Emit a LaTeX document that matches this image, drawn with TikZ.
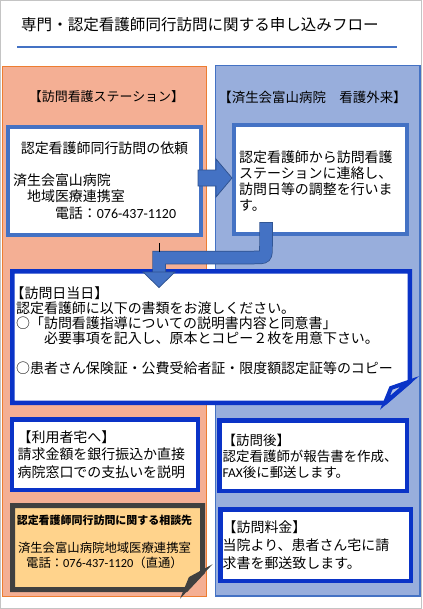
\documentclass[tikz,border=0pt]{standalone}
\usepackage{fontspec}
\setmainfont{Noto Sans CJK JP}
\newfontfamily\numfont{Carlito}
\newcommand{\fsz}[2]{\fontsize{#1}{#2}\selectfont}
\definecolor{lpfill}{HTML}{F4AF94}
\definecolor{lpdraw}{HTML}{ED7D31}
\definecolor{rpfill}{HTML}{98AEDC}
\definecolor{accent}{HTML}{4472C4}
\definecolor{dkblue}{HTML}{0A33C7}
\definecolor{arrowline}{HTML}{2F528F}
\definecolor{notefill}{HTML}{FFD38C}
\definecolor{notedraw}{HTML}{404040}
\definecolor{foldblue}{HTML}{B7C6E8}
\definecolor{foldtan}{HTML}{9A8B73}
\definecolor{framegray}{HTML}{C4C4C4}
\tikzset{
  panelL/.style={draw=lpdraw, fill=lpfill, line width=1bp, rectangle, inner sep=0},
  panelR/.style={draw=accent, fill=rpfill, line width=1.2bp, rectangle, inner sep=0},
  lbox/.style={draw=accent, fill=white, line width=4bp, rectangle, inner sep=0},
  dbox/.style={draw=dkblue, fill=white, line width=4.5bp, rectangle, inner sep=0},
  dkpath/.style={draw=dkblue, fill=white, line width=4.5bp, line join=miter},
  notepath/.style={draw=notedraw, fill=notefill, line width=5bp, line join=miter},
  txt/.style={inner sep=0, text=black},
  mtxt/.style={inner sep=0, text=black, anchor=west, align=left},
}
\begin{document}
\begin{tikzpicture}[x=1bp,y=-1bp]
\useasboundingbox (0,0) rectangle (422,609);
\fill[white] (0,0) rectangle (422,609);
\draw[framegray, line width=1bp] (0.5,0.5) rectangle (421.5,608.5);

% title
\node[txt, anchor=west, font=\fsz{15.6}{18}] (title) at (21,25) {専門・認定看護師同行訪問に関する申し込みフロー};
\coordinate (ulA) at (17,47);
\coordinate (ulB) at (397,47);
\draw[accent, line width=2bp] (ulA) -- (ulB);

% panels
\node[panelL, minimum width=204bp, minimum height=529.5bp] (lp) at (104.5,331.75) {};
\node[panelR, minimum width=204.5bp, minimum height=530.5bp] (rp) at (317.75,330.75) {};

\node[txt, font=\fsz{13}{16}] (lh) at (106.5,97) {【訪問看護ステーション】};
\node[txt, font=\fsz{13.5}{16}] (rh) at (312.5,97) {【済生会富山病院　看護外来】};

% box 1
\node[lbox, minimum width=193bp, minimum height=108bp] (b1) at (104.5,181) {};
\node[txt, font=\fsz{14}{16.5}] (t1a) at (104.5,148) {認定看護師同行訪問の依頼};
\node[mtxt, font=\fsz{14}{16.5}] (t1b) at (13,196.5) {済生会富山病院\\　地域医療連携室\\　　　電話：{\numfont 076-437-1120}};

% box 2
\node[lbox, minimum width=173bp, minimum height=109bp] (b2) at (320.5,179.5) {};
\node[mtxt, font=\fsz{14}{16}] (t2) at (239,181) {認定看護師から訪問看護\\ステーションに連絡し、\\訪問日等の調整を行いま\\す。};

% arrow b1 -> b2
\filldraw[fill=accent, draw=arrowline, line width=0.75bp]
  (198,170) -- (216,170) -- (216,159) -- (232,178) -- (216,197) -- (216,186) -- (198,186) -- cycle;

% box 3 (folded corner)
\path[dkpath] (12.25,271.25) -- (409.75,271.25) -- (409.75,381.5) -- (385,402.75) -- (12.25,402.75) -- cycle;
\filldraw[draw=dkblue, fill=foldblue, line width=4bp, line join=miter] (409.75,381.5) -- (391,388) -- (385,402.75) -- cycle;
\node[mtxt, font=\fsz{14}{15}] (t3) at (16,330.5) {\hspace*{-0.4em}【訪問日当日】\\認定看護師に以下の書類をお渡しください。\\○「訪問看護指導についての説明書内容と同意書」\\　　必要事項を記入し、原本とコピー２枚を用意下さい。\\ \\○患者さん保険証・公費受給者証・限度額認定証等のコピー};

% bent arrow b2 -> b3
\draw[arrowline, line width=13.5bp] (266,222) -- (266,245.5) .. controls (266,257.5) .. (254,257.5) -- (159,257.5) -- (159,273);
\draw[accent, line width=12bp] (266,222.75) -- (266,245.5) .. controls (266,257.5) .. (254,257.5) -- (159,257.5) -- (159,273);
\filldraw[fill=accent, draw=arrowline, line width=0.75bp] (143,272) -- (175,272) -- (159,287.5) -- cycle;
\draw[black, line width=0.8bp] (159,243) -- (159,252);

% box 4
\node[dbox, minimum width=185.5bp, minimum height=70.5bp] (b4) at (105,454.5) {};
\node[mtxt, font=\fsz{14}{17.5}] (t4) at (17.5,454.5) {【利用者宅へ】\\請求金額を銀行振込か直接\\病院窓口での支払いを説明};

% box 5
\node[dbox, minimum width=187.5bp, minimum height=70.5bp] (b5) at (313,455.5) {};
\node[mtxt, font=\fsz{13.5}{16}] (t5) at (222.5,456) {【訪問後】\\認定看護師が報告書を作成、\\{\numfont FAX}後に郵送します。};

% box 6
\node[dbox, minimum width=190.5bp, minimum height=71.5bp] (b6) at (315.5,545) {};
\node[mtxt, font=\fsz{14}{18}] (t6) at (222.5,545) {【訪問料金】\\当院より、患者さん宅に請\\求書を郵送致します。};

% box 7 (note with folded corner)
\path[notepath] (12.5,505.5) -- (202.5,505.5) -- (202.5,572) -- (186,589.5) -- (12.5,589.5) -- cycle;
\filldraw[draw=notedraw, fill=foldtan, line width=4bp, line join=miter] (202.5,572) -- (190.5,578.5) -- (186,589.5) -- cycle;
\node[txt, font=\bfseries\fsz{11}{13}] (t7a) at (104.5,520) {認定看護師同行訪問に関する相談先};
\node[txt, align=center, font=\fsz{12.4}{15}] (t7b) at (104.5,555.5) {済生会富山病院地域医療連携室\\電話：{\numfont 076-437-1120}（直通）};
\end{tikzpicture}
\end{document}
